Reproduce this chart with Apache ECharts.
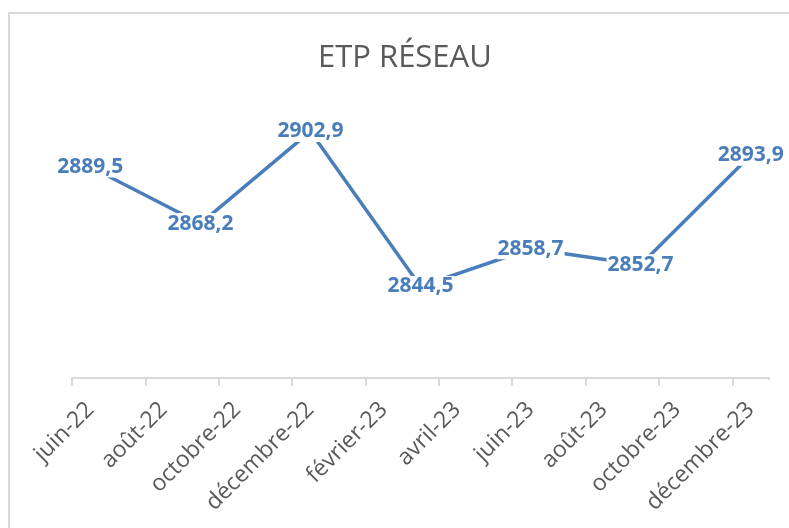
<!DOCTYPE html>
<html>
<head>
<meta charset="utf-8">
<script src="https://cdn.jsdelivr.net/npm/echarts@6/dist/echarts.min.js"></script>
<style>
html,body{margin:0;padding:0;background:#fff;}
#chart{width:789px;height:528px;}
</style>
</head>
<body>
<div id="chart"></div>
<script>
// Monthly categories of the date axis (one slot per month)
const categories = [
  "juin-22","juillet-22","août-22","septembre-22","octobre-22","novembre-22",
  "décembre-22","janvier-23","février-23","mars-23","avril-23","mai-23",
  "juin-23","juillet-23","août-23","septembre-23","octobre-23","novembre-23","décembre-23"
];
// ETP values (only quarterly months carry data)
const values = [
  2889.5, null, null, 2868.2, null, null,
  2902.9, null, null, 2844.5, null, null,
  2858.7, null, null, 2852.7, null, null, 2893.9
];
const titleText = "ETP RÉSEAU";

const chart = echarts.init(document.getElementById('chart'));
chart.setOption({
  animation: false,
  backgroundColor: '#ffffff',
  title: {
    text: titleText,
    left: 313,
    top: 38,
    textStyle: { fontFamily: 'Open Sans', fontSize: 31, fontWeight: 'normal', color: '#595959' }
  },
  graphic: [{
    type: 'rect',
    shape: { x: 9, y: 13, width: 900, height: 900 },
    style: { fill: 'none', stroke: '#D9D9D9', lineWidth: 2 },
    silent: true
  }, {
    // hide the extra end-boundary tick that the reference does not have
    type: 'rect',
    shape: { x: 764, y: 380, width: 10, height: 10 },
    style: { fill: '#ffffff' },
    silent: true, z: 100
  }],
  grid: { left: 72, right: 20, top: 112.6, bottom: 150 },
  xAxis: {
    type: 'category',
    data: categories,
    boundaryGap: true,
    axisLine: { show: true, lineStyle: { color: '#D9D9D9', width: 2 } },
    axisTick: { show: true, interval: 1, length: 8, lineStyle: { color: '#D9D9D9', width: 2 } },
    axisLabel: {
      interval: 1, rotate: 45, margin: 28,
      fontFamily: 'Open Sans', fontSize: 23, color: '#595959'
    },
    splitLine: { show: false }
  },
  yAxis: {
    type: 'value', min: 2810, max: 2910, show: false,
    splitLine: { show: false }
  },
  series: [{
    type: 'line',
    data: values.map(v => v === null ? '-' : v),
    connectNulls: true,
    symbol: 'circle',
    symbolSize: 0.1,
    showSymbol: true,
    lineStyle: { color: '#4A7EBB', width: 3.5 },
    itemStyle: { color: '#4A7EBB' },
    label: {
      show: true,
      position: 'inside',
      formatter: p => String(p.value).replace('.', ','),
      fontFamily: 'Open Sans', fontSize: 21, fontWeight: 'bold', color: '#4A7EBB',
      backgroundColor: '#ffffff', lineHeight: 21, padding: [0, 1]
    }
  }]
});
</script>
</body>
</html>
